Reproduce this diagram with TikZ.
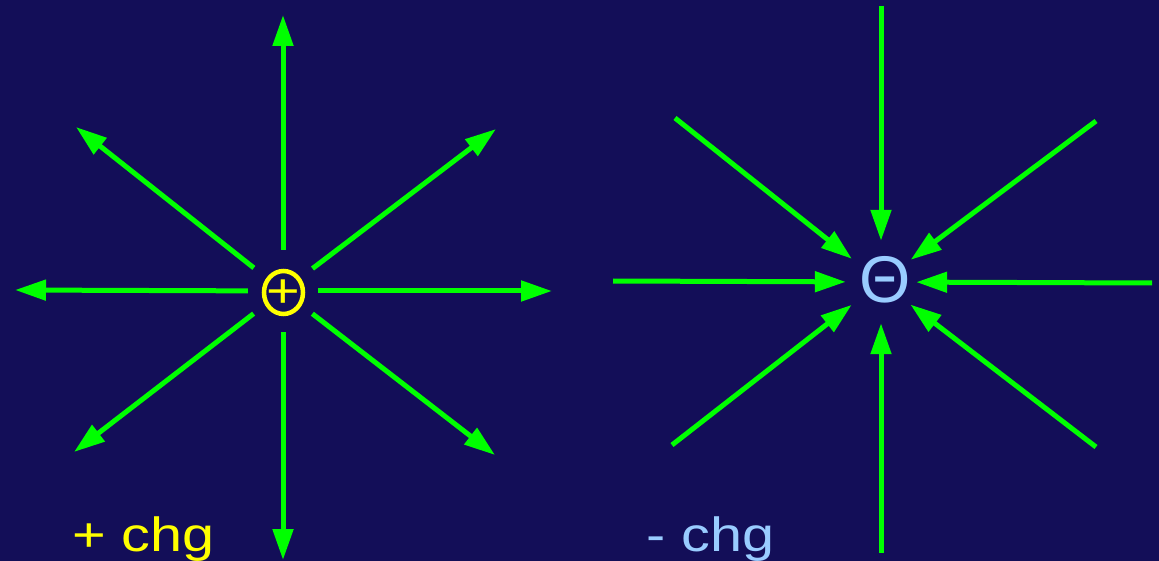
\documentclass[tikz,border=0pt]{standalone}
\usepackage{fontspec}
\setmainfont{Liberation Sans}
\usetikzlibrary{arrows.meta,shapes.geometric}
\definecolor{nightblue}{RGB}{19,14,88}
\definecolor{fieldgreen}{RGB}{0,255,0}
\definecolor{poscol}{RGB}{255,255,0}
\definecolor{negcol}{RGB}{153,204,255}
\begin{document}
\begin{tikzpicture}[x=1pt, y=-1pt,
    fieldline/.style={fieldgreen, line width=5pt, -{Triangle[length=31pt, width=20pt]}},
    chargezone/.style={ellipse, minimum width=70pt, minimum height=82pt, inner sep=0pt},
    chglabel/.style={font=\fontsize{48}{50}\selectfont, xscale=1.2, inner sep=0pt, anchor=base west}]
    % Fond
    \fill[nightblue] (0,0) rectangle (1159,561);
    \useasboundingbox (0,0) rectangle (1159,561);

    % Charge positive
    \node[chargezone] (pos) at (283,291) {};
    \node[ellipse, draw=poscol, line width=4.5pt, minimum width=39pt, minimum height=43pt, inner sep=0pt] (posring) at (283.5,292.5) {};
    \node[chglabel, anchor=center, text=poscol] (plus) at (283.5,294) {+};

    % Charge negative
    \node[chargezone] (neg) at (881,282) {};
    \node[text=negcol, font=\fontsize{66}{68}\selectfont, inner sep=0pt] (theta) at (885,280) {Θ};

    % Lignes de champ sortantes
    \coordinate (pu) at (283,15);
    \coordinate (pd) at (283,560);
    \coordinate (pl) at (15,290);
    \coordinate (pr) at (552,291);
    \coordinate (pul) at (76,127);
    \coordinate (pur) at (496,129);
    \coordinate (pdl) at (74,452);
    \coordinate (pdr) at (495,455);
    \foreach \tip in {pu,pd,pl,pr,pul,pur,pdl,pdr}
        \draw[fieldline] (pos) -- (\tip);

    % Lignes de champ entrantes
    \coordinate (nu) at (881,6);
    \coordinate (nd) at (881,553);
    \coordinate (nl) at (613,281);
    \coordinate (nr) at (1152,283);
    \coordinate (nul) at (675,118);
    \coordinate (nur) at (1096,121);
    \coordinate (ndl) at (672,445);
    \coordinate (ndr) at (1096,447);
    \foreach \tail in {nu,nd,nl,nr,nul,nur,ndl,ndr}
        \draw[fieldline] (\tail) -- (neg);

    % Etiquettes
    \node[chglabel, text=poscol] (poslabel) at (72,551) {+ chg};
    \node[chglabel, text=negcol] (neglabel) at (646,551) {- chg};
\end{tikzpicture}
\end{document}
